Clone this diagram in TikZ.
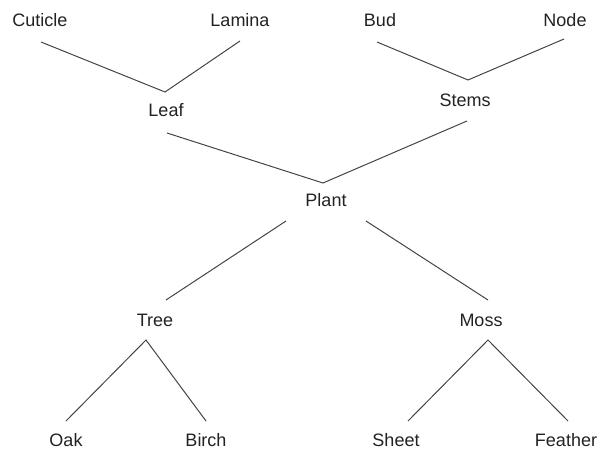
\documentclass[tikz,border=0pt]{standalone}
\usepackage{fontspec}
\setmainfont{Liberation Sans}
\definecolor{linegray}{RGB}{68,68,68}
\definecolor{textgray}{RGB}{34,34,34}
\tikzset{
  word/.style={inner sep=0pt, text=textgray, font=\fontsize{18}{20}\selectfont},
  branch/.style={draw=linegray, line width=1pt}
}
\begin{document}
\begin{tikzpicture}[x=1pt,y=-1pt]
\useasboundingbox (0,0) rectangle (610,460);
% words
\node[word] (cuticle) at (40,20) {Cuticle};
\node[word] (lamina) at (240,20) {Lamina};
\node[word] (bud) at (380,20) {Bud};
\node[word] (nodeword) at (565,20) {Node};
\node[word] (leaf) at (166,110) {Leaf};
\node[word] (stems) at (465,100) {Stems};
\node[word] (plant) at (326,200) {Plant};
\node[word] (tree) at (155,320) {Tree};
\node[word] (moss) at (481,320) {Moss};
\node[word] (oak) at (66,440) {Oak};
\node[word] (birch) at (206,440) {Birch};
\node[word] (sheet) at (396,440) {Sheet};
\node[word] (feather) at (566,440) {Feather};

% line ends
\coordinate (cuticle-end) at (41,42);
\coordinate (lamina-end) at (240,41);
\coordinate (leaf-top) at (165,92);
\coordinate (leaf-bottom) at (167,133);
\coordinate (bud-end) at (377,42);
\coordinate (node-end) at (564,39);
\coordinate (stems-top) at (468,80);
\coordinate (stems-bottom) at (467,121);
\coordinate (plant-top) at (323,183);
\coordinate (plant-left) at (286,221);
\coordinate (plant-right) at (366,221);
\coordinate (tree-top) at (166,300);
\coordinate (tree-bottom) at (146,340);
\coordinate (moss-top) at (488,300);
\coordinate (moss-bottom) at (488,340);
\coordinate (oak-end) at (66,421);
\coordinate (birch-end) at (206,421);
\coordinate (sheet-end) at (408,421);
\coordinate (feather-end) at (568,421);

% branches
\draw[branch] (cuticle-end) -- (leaf-top) -- (lamina-end);
\draw[branch] (bud-end) -- (stems-top) -- (node-end);
\draw[branch] (leaf-bottom) -- (plant-top) -- (stems-bottom);
\draw[branch] (plant-left) -- (tree-top);
\draw[branch] (plant-right) -- (moss-top);
\draw[branch] (oak-end) -- (tree-bottom) -- (birch-end);
\draw[branch] (sheet-end) -- (moss-bottom) -- (feather-end);
\end{tikzpicture}
\end{document}
